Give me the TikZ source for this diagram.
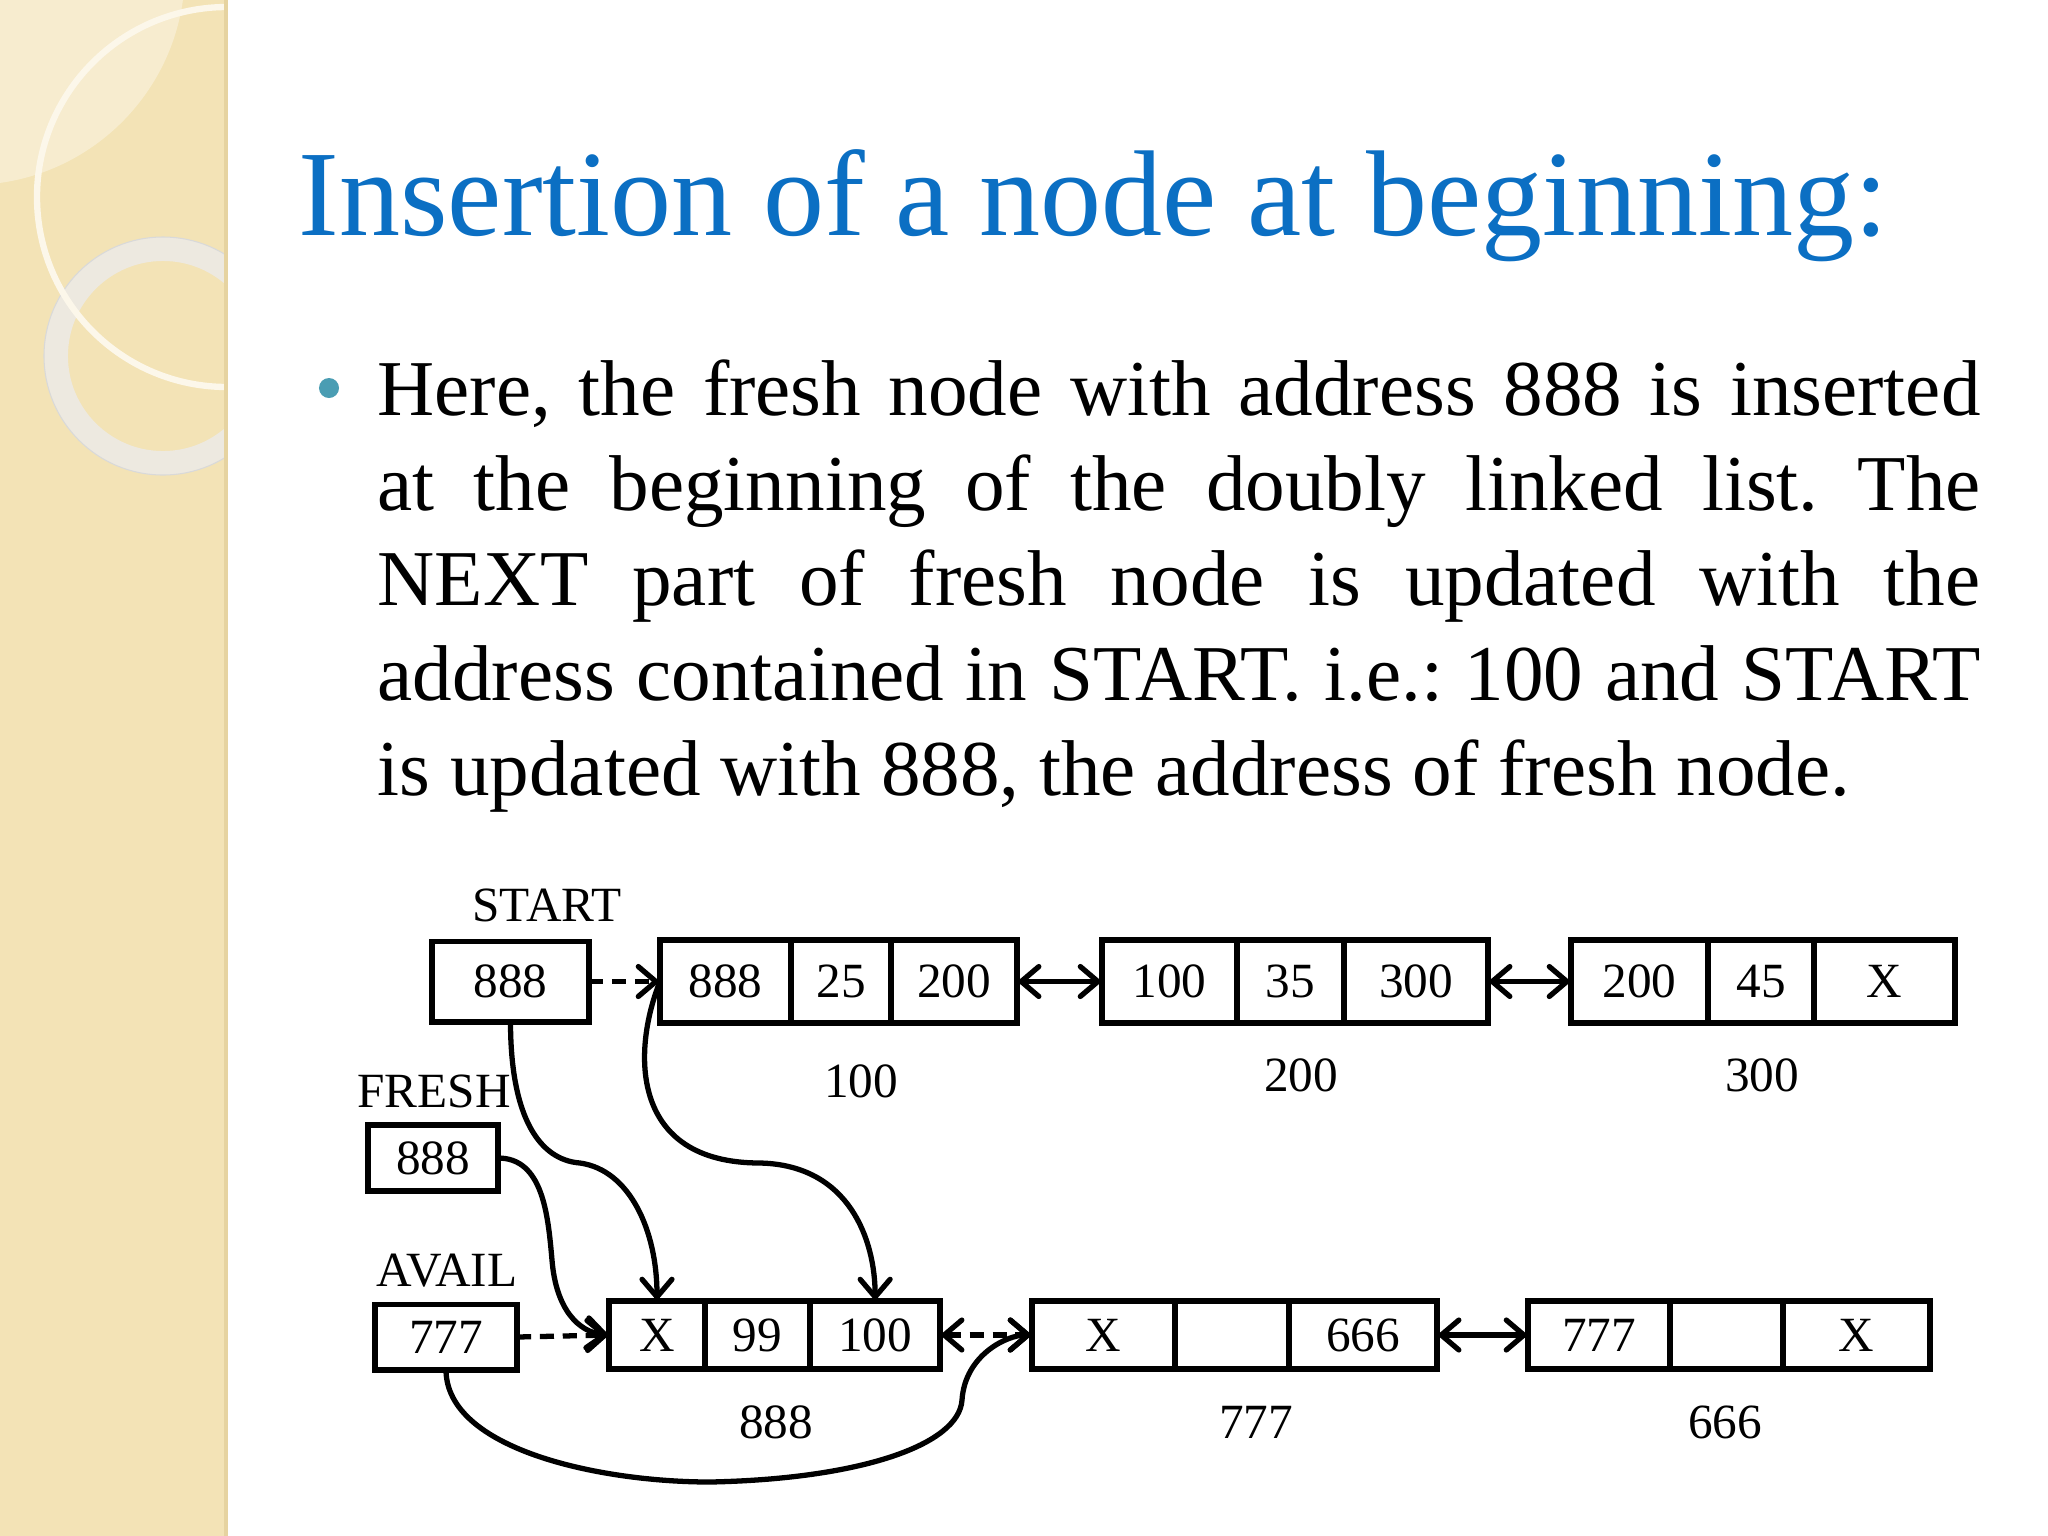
\documentclass[tikz,border=0pt]{standalone}
\usepackage{fontspec}
\setmainfont{Liberation Serif}
\usetikzlibrary{positioning,arrows.meta}
\definecolor{titleBlue}{HTML}{0B6FC3}
\definecolor{bulletTeal}{HTML}{4A9DB3}
\definecolor{stripBeige}{HTML}{F3E3B6}
\definecolor{stripEdge}{HTML}{E6D3A0}
\definecolor{ringCream}{HTML}{FCF7EA}
\definecolor{ringGray}{HTML}{EDE9E0}
\newcommand{\diagfont}{\fontsize{14}{16}\selectfont}
\newcommand{\bodyfont}{\fontsize{22.5}{27}\selectfont}
\frenchspacing

\begin{document}
\begin{tikzpicture}[
        x=0.01cm, y=-0.01cm,
        cell/.style={draw, line width=1.7pt, inner sep=0pt, outer sep=0pt, minimum height=0.83cm, font=\diagfont}, % boxes of the upper list
        low/.style={cell, minimum height=0.68cm}, % boxes of the lower list
        addr/.style={font=\diagfont, inner sep=0pt},
        bodyline/.style={font=\bodyfont, inner sep=0pt, anchor=base west},
        link/.style={line width=1.5pt, -{Straight Barb[length=5pt,width=8.5pt,line cap=round]}},
        both/.style={line width=1.5pt, {Straight Barb[length=5pt,width=8.5pt,line cap=round]}-{Straight Barb[length=5pt,width=8.5pt,line cap=round]}},
        dashlink/.style={dash pattern=on 4pt off 2.5pt}
    ]
    \useasboundingbox (0,0) rectangle (2048,1536);
    \fill[white] (0,0) rectangle (2048,1536);

    % left strip
    \fill[stripBeige] (0,0) rectangle (226,1536);
    \begin{scope}
        \clip (0,0) rectangle (226,1536);
        \fill[white, opacity=0.35] (-30,-30) circle (215);
        \draw[ringGray, line width=6.8pt] (163,356) circle (107);
        \draw[black!15, line width=0.3pt] (163,356) circle (119);
        \draw[ringCream, line width=1.8pt] (227,197) circle (190);
    \end{scope}
    \draw[stripEdge, line width=1pt] (226,0) -- (226,1536);

    % title and text
    \node[font=\fontsize{34.7}{40}\selectfont, text=titleBlue, inner sep=0pt, anchor=base west] (title) at (298,235) {Insertion of a node at beginning:};
    \node[circle, fill=bulletTeal, inner sep=0pt, minimum size=0.2cm] (dot) at (329,388) {};
    \node[bodyline] (line1) at (377,415) {\makebox[455.8pt][s]{Here, the fresh node with address 888 is inserted}};
    \node[bodyline] (line2) at (377,510) {\makebox[455.8pt][s]{at the beginning of the doubly linked list. The}};
    \node[bodyline] (line3) at (377,605) {\makebox[455.8pt][s]{NEXT part of fresh node is updated with the}};
    \node[bodyline] (line4) at (377,700) {\makebox[455.8pt][s]{address contained in START. i.e.: 100 and START}};
    \node[bodyline] (line5) at (377,795) {is updated with 888, the address of fresh node.};

    % pointers
    \node[addr] (startlbl) at (547,905) {START};
    \node[cell, minimum width=1.57cm, minimum height=0.80cm] (start) at (510.5,981.5) {888};
    \node[addr] (freshlbl) at (434,1091) {FRESH};
    \node[low, minimum width=1.30cm, minimum height=0.66cm] (fresh) at (433,1158) {888};
    \node[addr] (availlbl) at (447,1271) {AVAIL};
    \node[low, minimum width=1.42cm, minimum height=0.65cm] (avail) at (446,1337) {777};

    % upper list
    \node[cell, minimum width=1.31cm] (a1) at (725.5,981.5) {888};
    \node[cell, minimum width=1.00cm, right=0pt of a1] (a2) {25};
    \node[cell, minimum width=1.26cm, right=0pt of a2] (a3) {200};
    \node[cell, minimum width=1.35cm] (b1) at (1169.5,981.5) {100};
    \node[cell, minimum width=1.07cm, right=0pt of b1] (b2) {35};
    \node[cell, minimum width=1.44cm, right=0pt of b2] (b3) {300};
    \node[cell, minimum width=1.37cm] (c1) at (1639.5,981.5) {200};
    \node[cell, minimum width=1.06cm, right=0pt of c1] (c2) {45};
    \node[cell, minimum width=1.41cm, right=0pt of c2] (c3) {X};
    \node[addr] (l100) at (861,1081) {100};
    \node[addr] (l200) at (1301,1075) {200};
    \node[addr] (l300) at (1762,1075) {300};

    % lower list
    \node[low, minimum width=0.96cm] (p1) at (657,1335) {X};
    \node[low, minimum width=1.05cm, right=0pt of p1] (p2) {99};
    \node[low, minimum width=1.30cm, right=0pt of p2] (p3) {100};
    \node[low, minimum width=1.43cm] (q1) at (1103.5,1335) {X};
    \node[low, minimum width=1.14cm, right=0pt of q1] (q2) {};
    \node[low, minimum width=1.48cm, right=0pt of q2] (q3) {666};
    \node[low, minimum width=1.42cm] (r1) at (1599,1335) {777};
    \node[low, minimum width=1.13cm, right=0pt of r1] (r2) {};
    \node[low, minimum width=1.47cm, right=0pt of r2] (r3) {X};
    \node[addr] (l888) at (776,1422) {888};
    \node[addr] (l777) at (1256,1422) {777};
    \node[addr] (l666) at (1725,1422) {666};

    \coordinate (bendA) at (580,1163);
    \coordinate (bendB) at (760,1163);
    \coordinate (bendC) at (552,1260);
    \coordinate (lowA) at (710,1482);
    \coordinate (lowB) at (962,1400);

    \draw[link, dashlink] (start.east) -- (a1.west);
    \draw[both] (a3.east) -- (b1.west);
    \draw[both] (b3.east) -- (c1.west);
    \draw[link, dashlink] (avail.east) -- (p1.west);
    \draw[both, dashlink] (p3.east) -- (q1.west);
    \draw[both] (q3.east) -- (r1.west);

    \draw[link] (start.south) .. controls +(0,97) and +(-40,-3) .. (bendA) .. controls +(50,7) and +(0,-70) .. (p1.north);
    \draw[link] (a1.west) .. controls +(-28,70) and +(-130,0) .. (bendB) .. controls +(90,2) and +(0,-60) .. (p3.north);
    \draw[link] (fresh.east) .. controls +(45,0) and +(-4,-45) .. (bendC) .. controls +(4,50) and +(-30,-3) .. (p1.west);
    \draw[link] (avail.south) .. controls +(0,80) and +(-110,0) .. (lowA) .. controls +(150,-3) and +(-3,45) .. (lowB) .. controls +(3,-45) and +(-25,0) .. (q1.west);
\end{tikzpicture}
\end{document}
